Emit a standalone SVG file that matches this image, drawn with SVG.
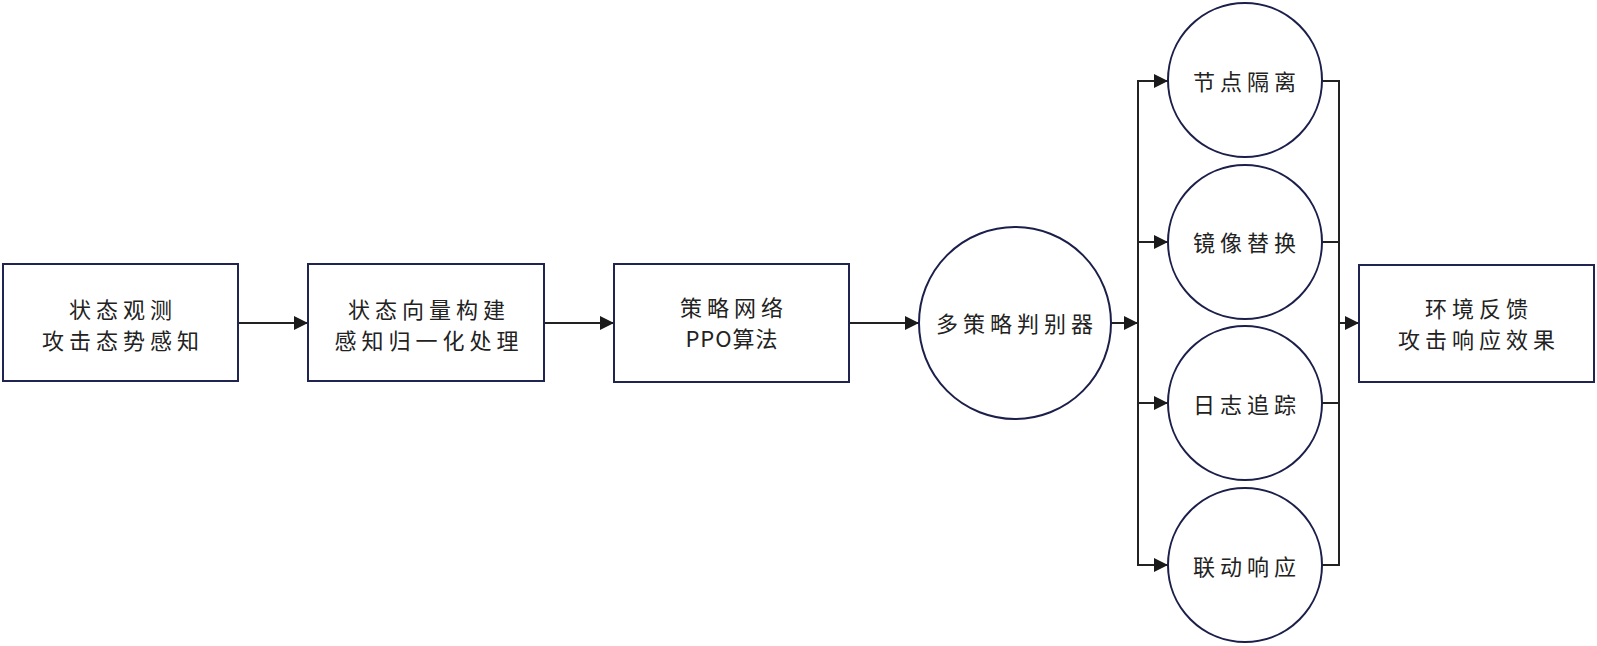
<svg xmlns="http://www.w3.org/2000/svg" width="1597" height="646" viewBox="0 0 1597 646">
<style>
.box{fill:#ffffff;stroke:#1f2550;stroke-width:2}
.circ{fill:#ffffff;stroke:#1b1f4a;stroke-width:2}
.t{font-family:"Noto Sans CJK SC","Liberation Sans",sans-serif;font-size:22px;fill:#222222;text-anchor:middle;letter-spacing:5px;dominant-baseline:central}
.c{fill:none;stroke:#222222;stroke-width:2}
</style>
<defs>
<marker id="ah" markerUnits="userSpaceOnUse" markerWidth="14" markerHeight="14" refX="14" refY="7" orient="auto">
<path d="M0,0 L14,7 L0,14 z" fill="#1a1a1a"/>
</marker>
</defs>
<rect width="1597" height="646" fill="#ffffff"/>
<g id="connectors">
<line class="c" x1="238" y1="323" x2="308" y2="323" marker-end="url(#ah)"/>
<line class="c" x1="544" y1="323" x2="614" y2="323" marker-end="url(#ah)"/>
<line class="c" x1="849" y1="323" x2="919" y2="323" marker-end="url(#ah)"/>
<line class="c" x1="1111" y1="323" x2="1138" y2="323" marker-end="url(#ah)"/>
<line class="c" x1="1138" y1="80" x2="1138" y2="566"/>
<line class="c" x1="1137" y1="81" x2="1168" y2="81" marker-end="url(#ah)"/>
<line class="c" x1="1137" y1="242" x2="1168" y2="242" marker-end="url(#ah)"/>
<line class="c" x1="1137" y1="403" x2="1168" y2="403" marker-end="url(#ah)"/>
<line class="c" x1="1137" y1="565" x2="1168" y2="565" marker-end="url(#ah)"/>
<polyline class="c" points="1322,81 1339,81 1339,565 1322,565"/>
<line class="c" x1="1322" y1="242" x2="1339" y2="242"/>
<line class="c" x1="1322" y1="403" x2="1339" y2="403"/>
<line class="c" x1="1339" y1="323" x2="1359" y2="323" stroke-width="4" marker-end="url(#ah)"/>
</g>
<g id="n1"><rect class="box" x="3" y="264" width="235" height="117"/>
<text class="t" x="123" y="308">状态观测</text><text class="t" x="123" y="339">攻击态势感知</text></g>
<g id="n2"><rect class="box" x="308" y="264" width="236" height="117"/>
<text class="t" x="429" y="308">状态向量构建</text><text class="t" x="429" y="339">感知归一化处理</text></g>
<g id="n3"><rect class="box" x="614" y="264" width="235" height="118"/>
<text class="t" x="734" y="306">策略网络</text><text class="t" x="732" y="337" style="letter-spacing:1px">PPO算法</text></g>
<g id="n4"><circle class="circ" cx="1015" cy="323" r="96"/>
<text class="t" x="1017" y="322">多策略判别器</text></g>
<g id="n5"><circle class="circ" cx="1245" cy="80" r="77"/>
<text class="t" x="1247" y="80">节点隔离</text></g>
<g id="n6"><circle class="circ" cx="1245" cy="242" r="77"/>
<text class="t" x="1247" y="241">镜像替换</text></g>
<g id="n7"><circle class="circ" cx="1245" cy="403" r="77"/>
<text class="t" x="1247" y="403">日志追踪</text></g>
<g id="n8"><circle class="circ" cx="1245" cy="565" r="77"/>
<text class="t" x="1247" y="565">联动响应</text></g>
<g id="n9"><rect class="box" x="1359" y="265" width="235" height="117"/>
<text class="t" x="1479" y="307">环境反馈</text><text class="t" x="1479" y="338">攻击响应效果</text></g>
</svg>
